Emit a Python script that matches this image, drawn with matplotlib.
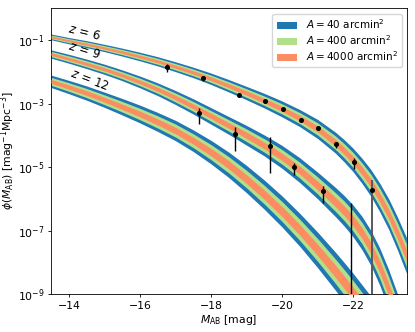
import numpy as np
import matplotlib
matplotlib.use("Agg")
import matplotlib.pyplot as plt

# === CONFIGURATION ===
FIGURE_SIZE = (4.15, 3.32)
DPI = 100
FONT_SIZE = 7.8
LEGEND_FONTSIZE = 7.5
COLORS = ['#1f77b4', '#b2df8a', '#fc8d62']  # A = 40, 400, 4000 arcmin^2
AREA_LABELS = [r'$A = 40$ arcmin$^2$', r'$A = 400$ arcmin$^2$',
               r'$A = 4000$ arcmin$^2$']
WIDTH_SCALE = [1.0, 0.64, 0.32]

plt.rcParams['font.size'] = FONT_SIZE
plt.rcParams['axes.linewidth'] = 0.6
plt.rcParams['xtick.major.size'] = 2.5
plt.rcParams['ytick.major.size'] = 2.5
plt.rcParams['xtick.major.width'] = 0.6
plt.rcParams['ytick.major.width'] = 0.6
plt.rcParams['xtick.major.pad'] = 2.2
plt.rcParams['ytick.major.pad'] = 2.0
plt.rcParams['axes.labelpad'] = 1.5

# === DATA ===
M_grid = [-13.5, -14.0, -14.5, -15.0, -15.5, -16.0, -16.5, -17.0, -17.5,
          -18.0, -18.5, -19.0, -19.5, -20.0, -20.5, -21.0, -21.5, -21.75,
          -22.0, -22.25, -22.5, -22.75, -23.0, -23.25, -23.5]

# log10 phi, centre of the bands
logphi_z6 = [-0.90, -1.02, -1.13, -1.25, -1.38, -1.52, -1.67, -1.84, -2.02,
             -2.22, -2.44, -2.67, -2.91, -3.17, -3.46, -3.80, -4.23, -4.49,
             -4.78, -5.12, -5.50, -5.96, -6.48, -7.10, -7.78]
logphi_z9 = [-1.44, -1.59, -1.75, -1.92, -2.11, -2.32, -2.55, -2.81, -3.09,
             -3.39, -3.69, -4.00, -4.32, -4.68, -5.10, -5.58, -6.10, -6.38,
             -6.70, -7.08, -7.55, -8.14, -8.85, -9.65, -10.5]
logphi_z12 = [-2.30, -2.48, -2.67, -2.88, -3.10, -3.33, -3.58, -3.85, -4.17,
              -4.53, -4.93, -5.38, -5.87, -6.40, -6.98, -7.61, -8.28, -8.63,
              -8.99, -9.37, -9.75, -10.17, -10.6, -11.05, -11.5]

# half width (dex) of the widest band (A = 40 arcmin^2)
width_z6 = [0.09, 0.10, 0.11, 0.115, 0.125, 0.135, 0.145, 0.155, 0.165, 0.18,
            0.195, 0.21, 0.23, 0.25, 0.27, 0.30, 0.33, 0.35, 0.37, 0.395,
            0.42, 0.45, 0.48, 0.52, 0.56]
width_z9 = [0.13, 0.14, 0.15, 0.16, 0.17, 0.185, 0.20, 0.22, 0.24, 0.26,
            0.28, 0.31, 0.33, 0.36, 0.39, 0.42, 0.46, 0.48, 0.50, 0.525,
            0.55, 0.585, 0.62, 0.65, 0.68]
width_z12 = [0.195, 0.21, 0.225, 0.24, 0.26, 0.28, 0.30, 0.32, 0.34, 0.37,
             0.40, 0.43, 0.46, 0.49, 0.52, 0.56, 0.60, 0.62, 0.64, 0.66,
             0.68, 0.69, 0.70, 0.70, 0.70]

# observed points z = 6 (log10 phi with lower / upper ends of the error bar)
obs6_M = [-16.76, -17.77, -18.78, -19.53, -20.03, -20.53, -21.02, -21.53,
          -22.03]
obs6_log = [-1.86, -2.21, -2.74, -2.92, -3.18, -3.51, -3.77, -4.29, -4.84]
obs6_lo = [-2.00, -2.29, -2.79, -2.96, -3.22, -3.56, -3.83, -4.41, -5.06]
obs6_hi = [-1.75, -2.13, -2.69, -2.88, -3.14, -3.46, -3.71, -4.22, -4.71]

# last z = 6 point: lower error reaches below the axis
obs6b_M = [-22.53]
obs6b_log = [-5.72]
obs6b_lo = [-12.0]
obs6b_hi = [-5.42]

# observed points z = 9
obs9_M = [-17.66, -18.67, -19.66, -20.35, -21.15, -21.95]
obs9_log = [-3.31, -3.97, -4.33, -5.01, -5.77, -12.0]
obs9_lo = [-3.66, -4.48, -5.20, -5.25, -6.12, -12.0]
obs9_hi = [-3.13, -3.75, -4.06, -4.87, -5.61, -6.14]

# === FIGURE ===
fig, ax = plt.subplots(figsize=FIGURE_SIZE, dpi=DPI)

M = np.array(M_grid)
curves = [(logphi_z6, width_z6), (logphi_z9, width_z9),
          (logphi_z12, width_z12)]

for k, (lp, wd) in enumerate(curves):
    lp = np.array(lp)
    wd = np.array(wd)
    for i in range(3):
        lab = AREA_LABELS[i] if k == 0 else None
        ax.fill_between(M, 10 ** (lp - wd * WIDTH_SCALE[i]),
                        10 ** (lp + wd * WIDTH_SCALE[i]),
                        color=COLORS[i], lw=0, label=lab, zorder=1 + i)


def draw_points(m, lg, lo, hi, color='k', lw=1.0):
    lg = np.array(lg)
    y = 10 ** lg
    yerr = [y - 10 ** np.array(lo), 10 ** np.array(hi) - y]
    ax.errorbar(m, y, yerr=yerr, fmt='o', ms=2.6, color='k', ecolor=color,
                elinewidth=lw, capsize=0, zorder=5)


draw_points(obs6_M, obs6_log, obs6_lo, obs6_hi)
draw_points(obs6b_M, obs6b_log, obs6b_lo, obs6b_hi, color='0.35', lw=1.4)
draw_points(obs9_M, obs9_log, obs9_lo, obs9_hi)

# redshift labels
ax.text(-14.45, 10 ** -0.78, r'$z\,=\,6$', rotation=-14, ha='center',
        va='center', fontsize=8.5)
ax.text(-14.45, 10 ** -1.32, r'$z\,=\,9$', rotation=-17, ha='center',
        va='center', fontsize=8.5)
ax.text(-14.58, 10 ** -2.25, r'$z\,=\,12$', rotation=-21, ha='center',
        va='center', fontsize=8.5)

ax.set_yscale('log')
ax.set_xlim(-13.5, -23.52)
ax.set_ylim(1e-9, 1)
ax.set_yticks([1e-9, 1e-7, 1e-5, 1e-3, 1e-1])
ax.yaxis.set_minor_locator(matplotlib.ticker.NullLocator())
ax.set_xticks([-14, -16, -18, -20, -22])

ax.set_xlabel(r'$M_{\rm AB}$ [mag]')
ax.set_ylabel(r'$\phi(M_{\rm AB})$ [mag$^{-1}$Mpc$^{-3}$]', labelpad=0.5)
ax.legend(loc='upper right', fontsize=LEGEND_FONTSIZE, handlelength=2.0,
          labelspacing=0.2, borderaxespad=0.5)

fig.subplots_adjust(left=0.123, right=0.981, bottom=0.1145, top=0.975)
fig.savefig('out.png', dpi=DPI)
